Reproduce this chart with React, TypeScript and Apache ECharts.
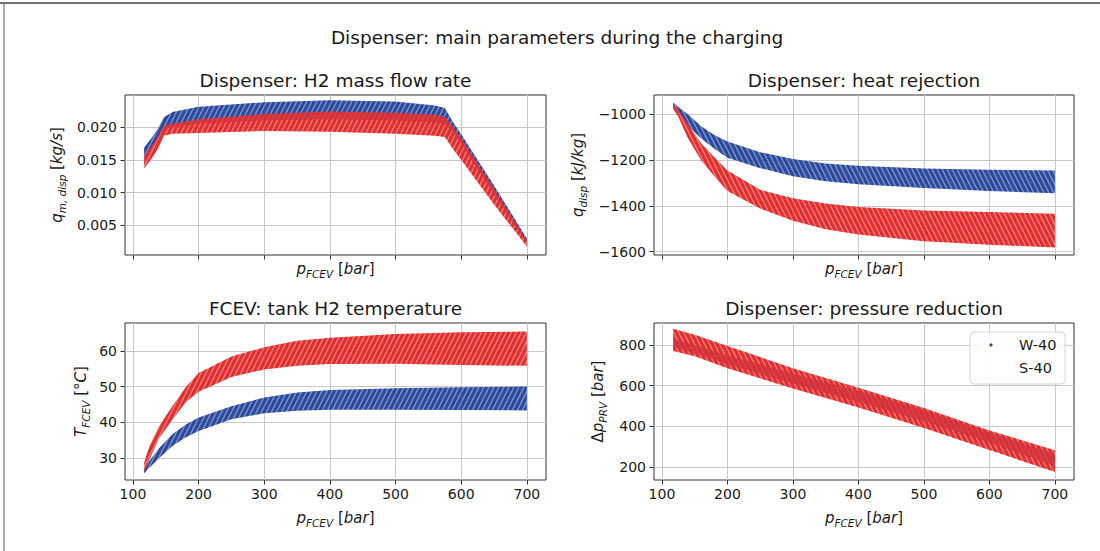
import React, { useEffect, useRef } from 'react';
import * as echarts from 'echarts';

const FONT = '"DejaVu Sans", sans-serif';
const INK = '#1a1a1a';
const BLUE = '#2c4b9f';
const RED = '#e42d2d';
const BLUE_TINT = 'rgba(44,75,159,0.6)';
const RED_TINT = 'rgba(228,45,45,0.6)';

const seriesNames = ['W-40', 'S-40'];
const suptitle = 'Dispenser: main parameters during the charging';
const panelTitles = [
  'Dispenser: H2 mass flow rate',
  'Dispenser: heat rejection',
  'FCEV: tank H2 temperature',
  'Dispenser: pressure reduction',
];

// x axis (tank pressure, bar)
const pressureRange = [87.85, 729.15];
const pressureTicks = [100, 200, 300, 400, 500, 600, 700];

// Panel 1: mass flow rate [kg/s] — band edges
const flowP = [117, 129, 139, 147, 160, 200, 300, 400, 500, 560, 575, 588, 600, 650, 700];
const flowW40Hi = [0.0169, 0.0184, 0.02, 0.0215, 0.0223, 0.0231, 0.0238, 0.0241, 0.0239, 0.0233, 0.0229, 0.0207, 0.0189, 0.0111, 0.003];
const flowW40Lo = [0.0153, 0.0168, 0.0183, 0.0197, 0.02, 0.0205, 0.021, 0.0212, 0.021, 0.0207, 0.0204, 0.0192, 0.0175, 0.0097, 0.0023];
const flowS40Hi = [0.0156, 0.0172, 0.0188, 0.0202, 0.0205, 0.0212, 0.022, 0.0224, 0.0222, 0.0219, 0.0216, 0.02, 0.0183, 0.0106, 0.0027];
const flowS40Lo = [0.0137, 0.0153, 0.0168, 0.0187, 0.019, 0.0191, 0.0194, 0.0193, 0.019, 0.0187, 0.0185, 0.0166, 0.015, 0.0082, 0.0018];
const flowRange = [0.0005, 0.0249];
const flowTicks = [0.005, 0.01, 0.015, 0.02];

// Panel 2: heat rejection [kJ/kg]
const heatP = [117, 125, 140, 160, 180, 200, 250, 300, 350, 400, 500, 600, 700];
const heatW40Hi = [-947, -968, -1000, -1052, -1090, -1118, -1165, -1195, -1215, -1225, -1237, -1242, -1245];
const heatW40Lo = [-962, -990, -1052, -1105, -1150, -1190, -1235, -1270, -1292, -1305, -1322, -1335, -1345];
const heatS40Hi = [-952, -980, -1045, -1127, -1187, -1245, -1330, -1367, -1390, -1405, -1420, -1427, -1434];
const heatS40Lo = [-975, -1010, -1105, -1202, -1270, -1335, -1412, -1465, -1502, -1525, -1555, -1570, -1582];
const heatRange = [-1615, -915];
const heatTicks = [-1600, -1400, -1200, -1000];

// Panel 3: tank temperature [°C]
const tempP = [117, 125, 140, 160, 180, 200, 250, 300, 350, 400, 500, 600, 700];
const tempW40Hi = [26.5, 29.1, 32.8, 36.6, 39.3, 41.3, 44.5, 46.9, 48.3, 49.0, 49.5, 49.8, 50.0];
const tempW40Lo = [25.6, 27.2, 30.0, 33.3, 35.7, 37.5, 40.8, 42.5, 43.2, 43.5, 43.5, 43.4, 43.3];
const tempS40Hi = [28.6, 33.3, 38.9, 44.5, 49.7, 53.8, 58.4, 61.0, 62.8, 63.7, 64.7, 65.2, 65.4];
const tempS40Lo = [26.2, 29.5, 35.6, 40.7, 45.5, 48.5, 52.7, 54.8, 55.8, 56.3, 56.4, 56.0, 55.8];
const tempRange = [23.8, 67.8];
const tempTicks = [30, 40, 50, 60];

// Panel 4: pressure reduction [bar]
const dpP = [117, 150, 200, 300, 400, 500, 600, 700];
const dpW40Hi = [830, 800, 750, 660, 575, 480, 370, 265];
const dpW40Lo = [790, 760, 705, 610, 520, 425, 320, 205];
const dpS40Hi = [880, 850, 795, 686, 590, 490, 380, 282];
const dpS40Lo = [770, 745, 686, 586, 493, 392, 284, 175];
const dpRange = [136, 908];
const dpTicks = [200, 400, 600, 800];

function makeStripe(color: string, tint: string, dir: number) {
  const w = 5;
  const h = 10;
  const c = document.createElement('canvas');
  c.width = w;
  c.height = h;
  const ctx = c.getContext('2d')!;
  ctx.fillStyle = tint;
  ctx.fillRect(0, 0, w, h);
  ctx.strokeStyle = color;
  ctx.lineWidth = 3.1;
  for (const o of [-w, 0, w]) {
    ctx.beginPath();
    if (dir > 0) {
      ctx.moveTo(o - w * 0.5, h * 1.5);
      ctx.lineTo(o + w * 1.5, -h * 0.5);
    } else {
      ctx.moveTo(o - w * 0.5, -h * 0.5);
      ctx.lineTo(o + w * 1.5, h * 1.5);
    }
    ctx.stroke();
  }
  return { image: c, repeat: 'repeat', imageWidth: w, imageHeight: h };
}

function band(name: string, idx: number, p: number[], lo: number[], hi: number[], fill: any) {
  return {
    type: 'custom',
    name,
    coordinateSystem: 'cartesian2d',
    xAxisIndex: idx,
    yAxisIndex: idx,
    clip: true,
    silent: true,
    data: [[p[0], lo[0]]],
    renderItem: (_params: any, api: any) => {
      const pts: number[][] = [];
      for (let i = 0; i < p.length; i++) pts.push(api.coord([p[i], hi[i]]));
      for (let i = p.length - 1; i >= 0; i--) pts.push(api.coord([p[i], lo[i]]));
      return {
        type: 'polygon',
        shape: { points: pts },
        style: { fill, lineWidth: 0 },
      };
    },
  };
}

const rich = {
  it: { fontFamily: FONT, fontStyle: 'italic', fontSize: 15, color: INK, lineHeight: 20 },
  sub: { fontFamily: FONT, fontStyle: 'italic', fontSize: 10.5, color: INK, lineHeight: 12, verticalAlign: 'bottom' },
};
const nameStyle = { fontFamily: FONT, fontSize: 15, color: INK, lineHeight: 20, rich };

function xAxis(idx: number, showLabels: boolean, nameGap: number) {
  return {
    type: 'value',
    gridIndex: idx,
    min: pressureRange[0],
    max: pressureRange[1],
    splitNumber: 5,
    name: '{it|p}{sub|FCEV} [{it|bar}]',
    nameLocation: 'middle',
    nameGap,
    nameTextStyle: nameStyle,
    axisLine: { show: false, onZero: false },
    axisTick: { show: true, inside: false, length: 4.5, customValues: pressureTicks, lineStyle: { color: '#333', width: 1 } },
    axisLabel: {
      show: showLabels,
      margin: 7,
      customValues: pressureTicks,
      fontFamily: FONT,
      fontSize: 14,
      color: INK,
    },
    splitLine: { show: true, lineStyle: { color: '#c8c8c8', width: 1 } },
  };
}

function yAxis(idx: number, range: number[], ticks: number[], splitNumber: number, name: string, nameGap: number, fmt: (v: number) => string) {
  return {
    type: 'value',
    gridIndex: idx,
    min: range[0],
    max: range[1],
    splitNumber,
    name,
    nameLocation: 'middle',
    nameGap,
    nameTextStyle: nameStyle,
    axisLine: { show: false, onZero: false },
    axisTick: { show: true, inside: false, length: 4.5, customValues: ticks, lineStyle: { color: '#333', width: 1 } },
    axisLabel: {
      margin: 8,
      customValues: ticks,
      formatter: fmt,
      fontFamily: FONT,
      fontSize: 14,
      color: INK,
    },
    splitLine: { show: true, lineStyle: { color: '#c8c8c8', width: 1 } },
  };
}

const gridBase = { show: true, borderColor: '#333', borderWidth: 1, backgroundColor: 'rgba(0,0,0,0)', containLabel: false, outerBoundsMode: 'none' };

export default function App() {
  const ref = useRef<HTMLDivElement>(null);
  useEffect(() => {
    const chart = echarts.init(ref.current!, null, { renderer: 'svg' });
    const bUp = makeStripe(BLUE, BLUE_TINT, 1);
    const rUp = makeStripe(RED, RED_TINT, 1);
    const bDn = makeStripe(BLUE, BLUE_TINT, -1);
    const rDn = makeStripe(RED, RED_TINT, -1);

    const titleText = (text: string, x: number, y: number, size: number) => ({
      type: 'text',
      x,
      y,
      style: { text, font: `${size}px ${FONT}`, fill: INK, align: 'center', verticalAlign: 'middle', textAlign: 'center', textVerticalAlign: 'middle' },
    });

    const option: any = {
      animation: false,
      backgroundColor: '#ffffff',
      grid: [
        { ...gridBase, left: 125, top: 95, width: 421, height: 160 },
        { ...gridBase, left: 654, top: 95, width: 420, height: 160 },
        { ...gridBase, left: 125, top: 323, width: 421, height: 157 },
        { ...gridBase, left: 654, top: 323, width: 420, height: 157 },
      ],
      xAxis: [xAxis(0, false, 4), xAxis(1, false, 4), xAxis(2, true, 28), xAxis(3, true, 28)],
      yAxis: [
        yAxis(0, flowRange, flowTicks, 5, '{it|q}{sub|m, disp} [{it|kg/s}]', 58, (v) => v.toFixed(3)),
        yAxis(1, heatRange, heatTicks, 3, '{it|q}{sub|disp} [{it|kJ/kg}]', 66, (v) => (v < 0 ? '\u2212' + Math.abs(v) : String(v))),
        yAxis(2, tempRange, tempTicks, 4, '{it|T}{sub|FCEV} [°{it|C}]', 34, (v) => String(v)),
        yAxis(3, dpRange, dpTicks, 4, 'Δ{it|p}{sub|PRV} [{it|bar}]', 46, (v) => String(v)),
      ],
      series: [
        band(seriesNames[0], 0, flowP, flowW40Lo, flowW40Hi, bUp),
        band(seriesNames[1], 0, flowP, flowS40Lo, flowS40Hi, rUp),
        band(seriesNames[0], 1, heatP, heatW40Lo, heatW40Hi, bDn),
        band(seriesNames[1], 1, heatP, heatS40Lo, heatS40Hi, rDn),
        band(seriesNames[0], 2, tempP, tempW40Lo, tempW40Hi, bUp),
        band(seriesNames[1], 2, tempP, tempS40Lo, tempS40Hi, rUp),
        band(seriesNames[0], 3, dpP, dpW40Lo, dpW40Hi, bDn),
        band(seriesNames[1], 3, dpP, dpS40Lo, dpS40Hi, rDn),
      ],
      graphic: [
        { type: 'line', shape: { x1: 0, y1: 3, x2: 1100, y2: 3 }, style: { stroke: '#444', lineWidth: 1.5 } },
        { type: 'line', shape: { x1: 4, y1: 3, x2: 4, y2: 551 }, style: { stroke: '#777', lineWidth: 1.2 } },
        titleText(suptitle, 557, 37, 18.5),
        titleText(panelTitles[0], 335.5, 80, 18.5),
        titleText(panelTitles[1], 864, 80, 18.5),
        titleText(panelTitles[2], 335.5, 308, 18.5),
        titleText(panelTitles[3], 864, 308, 18.5),
        {
          type: 'rect',
          shape: { x: 970, y: 332, width: 95, height: 52, r: 4 },
          style: { fill: 'rgba(255,255,255,0.85)', stroke: '#d4d4d4', lineWidth: 1 },
          z: 100,
        },
        { type: 'circle', shape: { cx: 991, cy: 345, r: 1.6 }, style: { fill: BLUE }, z: 101 },
        {
          type: 'text', x: 1019, y: 345, z: 101,
          style: { text: seriesNames[0], font: `14.5px ${FONT}`, fill: INK, align: 'left', verticalAlign: 'middle', textAlign: 'left', textVerticalAlign: 'middle' },
        },
        {
          type: 'text', x: 1019, y: 368, z: 101,
          style: { text: seriesNames[1], font: `14.5px ${FONT}`, fill: INK, align: 'left', verticalAlign: 'middle', textAlign: 'left', textVerticalAlign: 'middle' },
        },
      ],
    };
    chart.setOption(option);
    return () => chart.dispose();
  }, []);
  return <div ref={ref} style={{ position: 'fixed', left: 0, top: 0, width: 1100, height: 551, background: '#fff' }} />;
}
